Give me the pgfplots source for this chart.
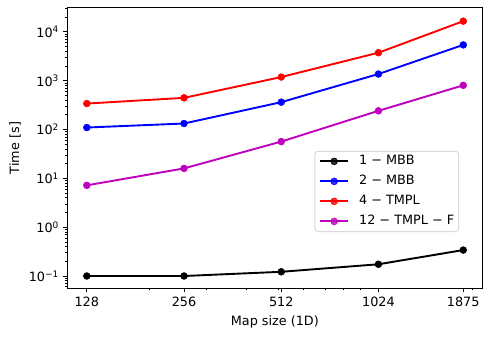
\documentclass[border=0pt]{standalone}
\usepackage{fontspec}
\setmainfont{DejaVu Sans}
\usepackage{pgfplots}
\pgfplotsset{compat=1.18}
\definecolor{mplm}{rgb}{0.75,0,0.75}
\begin{document}
\fontsize{12.8bp}{15bp}\selectfont
\begin{tikzpicture}
\useasboundingbox (0,0) rectangle (491bp,339bp);
\begin{axis}[
  at={(67.7bp,51bp)}, anchor=south west,
  scale only axis, width=414.3bp, height=280bp,
  xmode=log, ymode=log,
  xmin=111.7, xmax=2143, ymin=0.0568, ymax=30900,
  xtick={128,256,512,1024,1875},
  xticklabels={128,256,512,1024,1875},
  minor xtick={200,300,400,500,600,700,800,900,2000},
  ytick={0.1,1,10,100,1000,10000},
  yticklabels={10\textsuperscript{−1},10\textsuperscript{0},10\textsuperscript{1},10\textsuperscript{2},10\textsuperscript{3},10\textsuperscript{4}},
  minor ytick={0.06,0.07,0.08,0.09,0.2,0.3,0.4,0.5,0.6,0.7,0.8,0.9,2,3,4,5,6,7,8,9,20,30,40,50,60,70,80,90,200,300,400,500,600,700,800,900,2000,3000,4000,5000,6000,7000,8000,9000,20000,30000},
  tick align=outside, tick pos=left,
  major tick length=4.4bp, minor tick length=2.5bp,
  major tick style={line width=1bp, black},
  minor tick style={line width=0.76bp, black},
  axis line style={line width=1bp},
  xlabel={Map size (1D)},
  ylabel={Time [s]},
  xlabel style={at={(axis description cs:0.5,-0.1204)}, anchor=center},
  ylabel style={at={(axis description cs:-0.127,0.5)}, anchor=center},
  legend cell align=left,
  legend style={at={(0.9445,0.2)}, anchor=south east,
    draw=black!15, line width=1bp, rounded corners=3bp,
    fill=white, fill opacity=0.8, text opacity=1,
    inner xsep=4.3bp, inner ysep=4bp,
    nodes={inner sep=0pt, text height=9.5bp, text depth=2.7bp},
    row sep=7.8bp,
    /tikz/every odd column/.append style={column sep=10bp}},
  legend image code/.code={\draw[mark repeat=2,mark phase=2] plot coordinates {(0bp,0bp)(14bp,0bp)(28bp,0bp)};},
  every axis plot/.append style={line width=1.9bp, mark=*, mark size=3.4bp, mark options={solid, line width=0.6bp}},
]
\addplot[black] coordinates {(128,0.1)(256,0.1)(512,0.122)(1024,0.174)(1875,0.34)};
\addlegendentry{1 − MBB}
\addplot[blue] coordinates {(128,110)(256,133)(512,364)(1024,1372)(1875,5420)};
\addlegendentry{2 − MBB}
\addplot[red] coordinates {(128,341)(256,446)(512,1190)(1024,3750)(1875,16600)};
\addlegendentry{4 − TMPL}
\addplot[mplm] coordinates {(128,7.2)(256,16)(512,56.7)(1024,242)(1875,805)};
\addlegendentry{12 − TMPL − F}
\end{axis}
\end{tikzpicture}
\end{document}
